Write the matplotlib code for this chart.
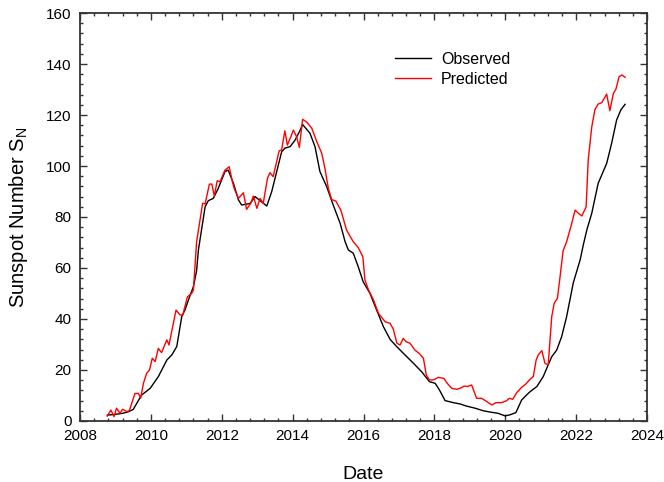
"""Sunspot number: observed vs predicted, solar cycle 24 into cycle 25."""

import matplotlib

matplotlib.use("Agg")

import matplotlib.pyplot as plt  # noqa: E402
from matplotlib.ticker import MultipleLocator  # noqa: E402

# 13-month smoothed observed sunspot number (decimal year, S_N)
obs_year = [
    2008.77, 2009.00, 2009.20, 2009.36, 2009.50, 2009.60, 2009.74, 2009.98,
    2010.21, 2010.45, 2010.59, 2010.73, 2010.87, 2010.96, 2011.06, 2011.20,
    2011.29, 2011.34, 2011.53, 2011.62, 2011.76, 2011.90, 2012.09, 2012.18,
    2012.33, 2012.47, 2012.56, 2012.80, 2012.94, 2013.08, 2013.27, 2013.41,
    2013.55, 2013.69, 2013.78, 2013.93, 2014.07, 2014.21, 2014.28, 2014.49,
    2014.63, 2014.77, 2014.96, 2015.15, 2015.34, 2015.48, 2015.57, 2015.71,
    2015.85, 2015.99, 2016.18, 2016.37, 2016.56, 2016.75, 2016.94, 2017.17,
    2017.41, 2017.64, 2017.86, 2018.02, 2018.14, 2018.30, 2018.53, 2018.72,
    2018.89, 2019.15, 2019.38, 2019.57, 2019.80, 2019.99, 2020.13, 2020.30,
    2020.46, 2020.60, 2020.70, 2020.89, 2021.07, 2021.21, 2021.31, 2021.45,
    2021.59, 2021.73, 2021.92, 2022.11, 2022.20, 2022.30, 2022.44, 2022.62,
    2022.86, 2023.00, 2023.14, 2023.26, 2023.38,
]
obs_ssn = [
    2.3, 2.6, 3.0, 3.6, 4.5, 6.9, 10.2, 12.8,
    17.4, 23.9, 25.9, 29.2, 40.9, 43.5, 47.5, 52.7,
    59.0, 67.0, 84.0, 86.4, 87.3, 91.2, 97.8, 98.4,
    93.2, 86.7, 84.7, 85.3, 88.0, 86.4, 84.3, 90.0,
    97.8, 105.6, 107.0, 107.6, 110.2, 114.0, 116.3, 112.8,
    107.6, 97.8, 91.9, 84.5, 77.5, 70.3, 67.1, 65.8,
    60.5, 54.6, 50.1, 43.5, 37.0, 32.0, 29.1, 25.9,
    22.6, 19.3, 15.4, 14.8, 12.2, 8.0, 7.2, 6.7,
    5.9, 5.0, 4.0, 3.5, 3.0, 2.0, 2.4, 3.3,
    8.2, 10.2, 11.5, 13.5, 17.4, 22.0, 25.2, 27.8,
    33.1, 40.9, 54.3, 63.1, 69.0, 74.9, 81.5, 93.2,
    101.0, 108.9, 118.0, 122.0, 124.2,
]

# model prediction (decimal year, S_N)
pred_year = [
    2008.77, 2008.87, 2008.96, 2009.03, 2009.13, 2009.20, 2009.32, 2009.39,
    2009.55, 2009.65, 2009.71, 2009.79, 2009.88, 2009.96, 2010.04, 2010.12,
    2010.21, 2010.30, 2010.45, 2010.51, 2010.71, 2010.82, 2010.90, 2011.03,
    2011.15, 2011.20, 2011.29, 2011.46, 2011.53, 2011.65, 2011.72, 2011.79,
    2011.87, 2011.95, 2012.09, 2012.21, 2012.30, 2012.35, 2012.47, 2012.61,
    2012.70, 2012.82, 2012.89, 2012.99, 2013.08, 2013.17, 2013.29, 2013.36,
    2013.45, 2013.62, 2013.69, 2013.78, 2013.85, 2013.95, 2014.02, 2014.11,
    2014.19, 2014.28, 2014.40, 2014.54, 2014.68, 2014.82, 2014.91, 2015.01,
    2015.10, 2015.22, 2015.36, 2015.52, 2015.71, 2015.85, 2015.98, 2016.04,
    2016.14, 2016.28, 2016.42, 2016.61, 2016.75, 2016.84, 2016.94, 2017.03,
    2017.12, 2017.20, 2017.31, 2017.45, 2017.57, 2017.69, 2017.77, 2017.86,
    2017.97, 2018.11, 2018.27, 2018.36, 2018.49, 2018.63, 2018.77, 2018.84,
    2018.93, 2019.05, 2019.19, 2019.33, 2019.48, 2019.62, 2019.74, 2019.90,
    2020.04, 2020.11, 2020.21, 2020.32, 2020.46, 2020.58, 2020.70, 2020.79,
    2020.87, 2020.93, 2021.03, 2021.12, 2021.21, 2021.31, 2021.38, 2021.47,
    2021.54, 2021.63, 2021.73, 2021.85, 2021.97, 2022.06, 2022.16, 2022.28,
    2022.34, 2022.44, 2022.53, 2022.62, 2022.72, 2022.86, 2022.95, 2023.05,
    2023.12, 2023.21, 2023.29, 2023.38,
]
pred_ssn = [
    1.9, 4.3, 1.7, 5.0, 3.0, 4.6, 3.7, 4.0,
    10.8, 10.8, 8.9, 14.8, 18.7, 20.0, 24.6, 23.3,
    28.5, 26.8, 31.8, 29.8, 43.5, 41.6, 41.6, 48.7,
    50.0, 51.4, 70.3, 85.4, 85.1, 92.9, 92.9, 88.2,
    94.2, 93.8, 98.4, 99.7, 93.8, 91.2, 87.3, 89.5,
    83.0, 85.4, 88.2, 83.4, 87.3, 85.4, 95.2, 97.4,
    95.8, 106.0, 106.3, 113.8, 108.2, 111.5, 114.1, 111.5,
    107.3, 118.3, 117.2, 114.8, 109.6, 105.0, 99.1, 91.0,
    86.9, 86.2, 82.7, 74.9, 70.3, 68.0, 64.4, 55.3,
    51.4, 47.5, 42.2, 38.9, 38.3, 36.0, 30.5, 29.8,
    32.4, 31.1, 30.5, 27.8, 26.5, 24.6, 18.0, 16.1,
    16.1, 17.1, 16.7, 14.8, 12.8, 12.4, 13.1, 13.7,
    13.5, 14.1, 8.9, 8.9, 7.6, 6.3, 7.2, 7.2,
    8.0, 8.9, 8.5, 11.1, 13.2, 14.5, 16.4, 17.4,
    23.9, 25.9, 27.6, 22.6, 22.0, 40.9, 46.2, 48.1,
    56.0, 66.7, 70.3, 76.2, 82.7, 81.5, 80.4, 84.0,
    102.4, 115.4, 122.2, 124.3, 124.8, 128.2, 121.7, 128.5,
    130.1, 135.0, 135.7, 134.8,
]

plt.rcParams["font.family"] = ["Liberation Sans", "DejaVu Sans"]

fig = plt.figure(figsize=(6.64, 4.82), dpi=100)
ax = fig.add_axes([0.1205, 0.1266, 0.854, 0.8464])

ax.plot(obs_year, obs_ssn, color="black", lw=1.0, label="Observed")
ax.plot(pred_year, pred_ssn, color="#ff0000", lw=1.0, label="Predicted")

ax.set_xlim(2008, 2024)
ax.set_ylim(0, 160)
ax.xaxis.set_major_locator(MultipleLocator(2))
ax.xaxis.set_minor_locator(MultipleLocator(0.4))
ax.yaxis.set_major_locator(MultipleLocator(20))
ax.yaxis.set_minor_locator(MultipleLocator(4))
ax.tick_params(which="both", direction="in", top=True, right=True,
               width=1.0, color="#333333")
ax.tick_params(which="major", length=5, labelsize=11, pad=6)
ax.tick_params(which="minor", length=2.5)
for spine in ax.spines.values():
    spine.set_linewidth(1.3)
    spine.set_color("#333333")

ax.set_xlabel("Date", fontsize=14, labelpad=16)
ax.set_ylabel("Sunspot Number S$_\\mathregular{N}$", fontsize=14.5, labelpad=12)

ax.legend(loc="upper left", bbox_to_anchor=(0.555, 0.905), frameon=False,
          fontsize=11.5, handlelength=2.3, handletextpad=0.6,
          labelspacing=0.3, borderpad=0, borderaxespad=0)

fig.savefig("out.png", dpi=100)
